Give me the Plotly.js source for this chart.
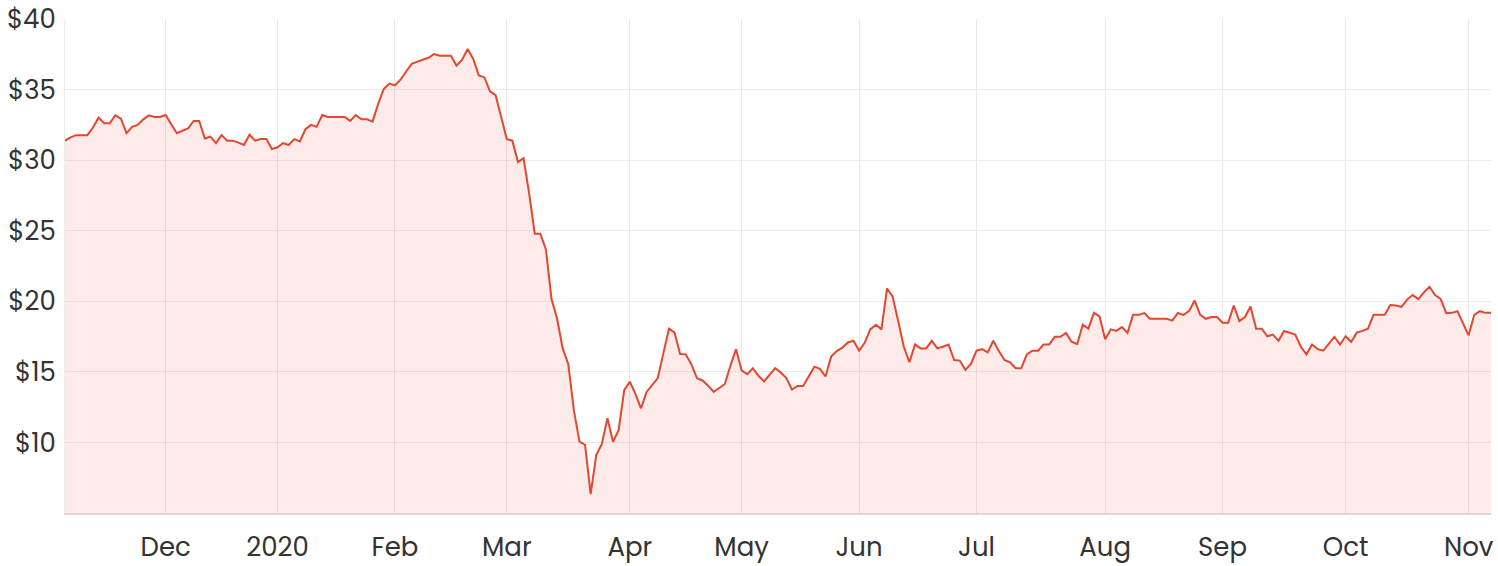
<!DOCTYPE html>
<html>
<head>
<meta charset="utf-8">
<script src="https://cdn.plot.ly/plotly-3.0.1.min.js"></script>
<style>
  html, body { margin: 0; padding: 0; background: #ffffff; }
  #chart { width: 1498px; height: 566px; }
</style>
</head>
<body>
<div id="chart"></div>
<script>
// Closing prices, one per ASX trading day, 6 Nov 2019 – 6 Nov 2020
const prices = [
  31.38, 31.61, 31.77, 31.77, 31.77, 32.31, 33.01, 32.61, 32.61, 33.17,
  32.94, 31.91, 32.36, 32.50, 32.89, 33.17, 33.06, 33.06, 33.20, 32.54,
  31.91, 32.08, 32.24, 32.78, 32.78, 31.54, 31.66, 31.21, 31.77, 31.38,
  31.38, 31.24, 31.07, 31.80, 31.38, 31.49, 31.49, 30.79, 30.91, 31.21,
  31.07, 31.49, 31.33, 32.19, 32.50, 32.36, 33.20, 33.06, 33.06, 33.06,
  33.06, 32.78, 33.20, 32.89, 32.89, 32.73, 33.99, 35.04, 35.42, 35.30,
  35.70, 36.28, 36.82, 36.98, 37.10, 37.25, 37.52, 37.40, 37.40, 37.40,
  36.70, 37.10, 37.87, 37.17, 36.00, 35.86, 34.88, 34.60, 33.06, 31.49,
  31.38, 29.86, 30.14, 27.64, 24.79, 24.79, 23.67, 20.16, 18.76, 16.66,
  15.54, 12.27, 10.05, 9.82, 6.33, 9.11, 9.89, 11.71, 10.05, 10.87,
  13.70, 14.30, 13.44, 12.41, 13.58, 14.04, 14.56, 16.31, 18.06, 17.78,
  16.26, 16.24, 15.54, 14.56, 14.39, 14.02, 13.58, 13.86, 14.14, 15.45,
  16.61, 15.09, 14.84, 15.26, 14.72, 14.32, 14.79, 15.26, 14.95, 14.56,
  13.74, 14.00, 14.00, 14.67, 15.37, 15.21, 14.67, 16.08, 16.47, 16.71,
  17.08, 17.20, 16.50, 17.06, 18.01, 18.34, 18.01, 20.91, 20.33, 18.58,
  16.78, 15.68, 16.94, 16.66, 16.66, 17.20, 16.66, 16.78, 16.94, 15.84,
  15.80, 15.14, 15.56, 16.50, 16.61, 16.38, 17.20, 16.47, 15.84, 15.68,
  15.26, 15.26, 16.24, 16.50, 16.50, 16.94, 16.94, 17.48, 17.48, 17.76,
  17.13, 16.96, 18.34, 18.06, 19.18, 18.93, 17.31, 18.01, 17.90, 18.18,
  17.76, 19.04, 19.04, 19.16, 18.76, 18.76, 18.76, 18.76, 18.63, 19.17,
  19.04, 19.30, 20.05, 19.04, 18.76, 18.88, 18.88, 18.48, 18.48, 19.70,
  18.60, 18.88, 19.63, 18.06, 18.06, 17.52, 17.64, 17.20, 17.90, 17.78,
  17.64, 16.78, 16.24, 16.94, 16.61, 16.50, 17.01, 17.48, 16.94, 17.52,
  17.13, 17.78, 17.90, 18.06, 19.04, 19.04, 19.04, 19.74, 19.70, 19.60,
  20.12, 20.44, 20.16, 20.63, 21.03, 20.44, 20.16, 19.16, 19.18, 19.30,
  18.41, 17.59, 19.04, 19.30, 19.18, 19.18
];

// Trading calendar (ASX) used for the x positions
const startDate = '2019-11-06';
const marketHolidays = ['2019-12-25', '2019-12-26', '2020-01-01', '2020-01-27',
                        '2020-04-10', '2020-04-13', '2020-06-08'];

// Month tick labels
const monthLabels = ['Dec', '2020', 'Feb', 'Mar', 'Apr', 'May', 'Jun',
                     'Jul', 'Aug', 'Sep', 'Oct', 'Nov'];
const yTickValues = [10, 15, 20, 25, 30, 35, 40];

// Build trading dates
function fmt(d) {
  const m = String(d.getUTCMonth() + 1).padStart(2, '0');
  const day = String(d.getUTCDate()).padStart(2, '0');
  return d.getUTCFullYear() + '-' + m + '-' + day;
}
const dates = [];
let d = new Date(startDate + 'T00:00:00Z');
while (dates.length < prices.length) {
  const wd = d.getUTCDay();
  const s = fmt(d);
  if (wd !== 0 && wd !== 6 && marketHolidays.indexOf(s) === -1) dates.push(s);
  d.setUTCDate(d.getUTCDate() + 1);
}
// first trading day of each month (after the first month)
const tickVals = [];
for (let i = 1; i < dates.length; i++) {
  if (dates[i].slice(0, 7) !== dates[i - 1].slice(0, 7)) tickVals.push(dates[i]);
}

const lineColor = '#e5462f';
const font = 'Poppins, Inter, "Open Sans", sans-serif';
const textColor = '#333333';

const trace = {
  x: dates,
  y: prices,
  type: 'scatter',
  mode: 'lines',
  line: { color: lineColor, width: 2 },
  fill: 'tozeroy',
  fillcolor: 'rgba(229,70,47,0.11)',
  hovertemplate: '%{x}<br>$%{y:.2f}<extra></extra>'
};

const layout = {
  width: 1498,
  height: 566,
  margin: { l: 65, r: 7, t: 19, b: 53 },
  paper_bgcolor: '#ffffff',
  plot_bgcolor: '#ffffff',
  showlegend: false,
  font: { family: font, size: 26, color: textColor },
  xaxis: {
    type: 'category',
    range: [0, dates.length - 1],
    tickmode: 'array',
    tickvals: tickVals,
    ticktext: monthLabels,
    showgrid: true,
    gridcolor: '#e9e9e9',
    gridwidth: 1.3,
    showline: true,
    linecolor: '#e2d6d4',
    linewidth: 1.5,
    ticks: '',
    ticklabelstandoff: 10,
    ticklabeloverflow: 'allow',
    tickfont: { family: font, size: 26, color: textColor },
    zeroline: false,
    fixedrange: true
  },
  yaxis: {
    range: [5, 40],
    tickmode: 'array',
    tickvals: yTickValues,
    ticktext: yTickValues.map(v => '$' + v),
    showgrid: true,
    gridcolor: '#ececec',
    gridwidth: 1.2,
    showline: true,
    linecolor: '#ececec',
    linewidth: 1,
    ticks: '',
    ticklabelstandoff: 3,
    ticklabeloverflow: 'allow',
    tickfont: { family: font, size: 26, color: textColor },
    zeroline: false,
    fixedrange: true
  },
  hovermode: 'x'
};

Plotly.newPlot('chart', [trace], layout, { displayModeBar: false });
</script>
</body>
</html>
